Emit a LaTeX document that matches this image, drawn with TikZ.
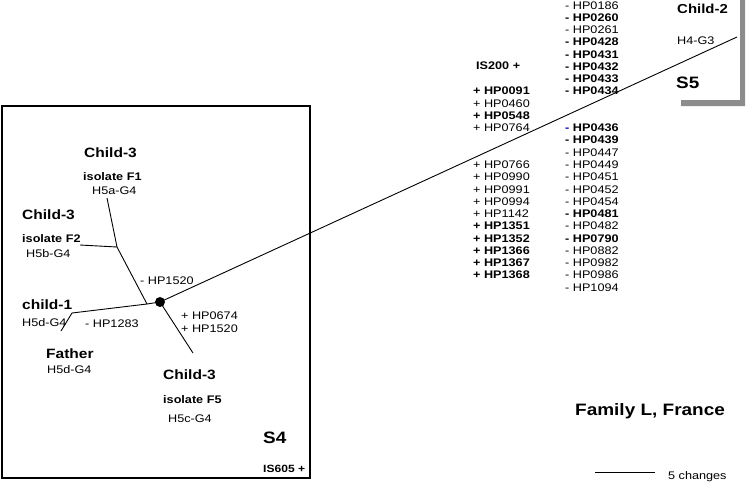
\documentclass[tikz,border=0pt]{standalone}
\usepackage{fontspec}
\setmainfont{Liberation Sans}[FakeStretch=1.15]
\begin{document}
\begin{tikzpicture}[x=1pt,y=-1pt,
  every node/.style={inner sep=0pt, anchor=base west},
  lr/.style={font=\fontsize{11}{13}\selectfont},
  lb/.style={font=\fontsize{11}{13}\selectfont\bfseries},
  who/.style={font=\fontsize{13.5}{15}\selectfont\bfseries},
  big/.style={font=\fontsize{16.5}{18}\selectfont\bfseries},
  branch/.style={line width=0.9pt, black},
  shadowc/.style={fill=black!45, draw=none}]
\useasboundingbox (0,0) rectangle (749,482);

% frame S4
\draw[line width=2pt] (2,105.5) rectangle (310,478);
% gray shadow S5
\fill[shadowc] (740,0) -- (745,0) -- (745,106) -- (681,106) -- (681,100) -- (740,100) -- cycle;

% tree
\coordinate (j0) at (147,304);
\coordinate (j1) at (117,247);
\coordinate (lF1) at (107,198);
\coordinate (lF2) at (80,245);
\coordinate (lc1) at (72,313);
\coordinate (lfa) at (61,331);
\coordinate (lF5) at (193,353);
\coordinate (lS5) at (737,37);
\node[circle, fill=black, minimum size=10pt, inner sep=0pt, anchor=center] (dot) at (160,302) {};
\draw[branch] (dot.center) -- (lS5);
\draw[branch] (dot.center) -- (lF5);
\draw[branch] (dot.center) -- (j0);
\draw[branch] (j0) -- (j1);
\draw[branch] (j1) -- (lF1);
\draw[branch] (j1) -- (lF2);
\draw[branch] (j0) -- (lc1);
\draw[branch] (lc1) -- (lfa);

% labels in S4
\node[who] (c3a) at (84,157) {Child-3};
\node[lb] (isoF1) at (83,180) {isolate F1};
\node[lr] (h5a) at (92,194) {H5a-G4};
\node[who] (c3b) at (22,219) {Child-3};
\node[lb] (isoF2) at (22,242) {isolate F2};
\node[lr] (h5b) at (26,257) {H5b-G4};
\node[lr] (m1520) at (140,284) {- HP1520};
\node[who] (c1) at (22,309) {child-1};
\node[lr] (h5d1) at (22,326) {H5d-G4};
\node[lr] (m1283) at (85,327) {- HP1283};
\node[lr] (p0674) at (181,319) {+ HP0674};
\node[lr] (p1520) at (181,332) {+ HP1520};
\node[who] (fa) at (46,358) {Father};
\node[lr] (h5d2) at (47,373) {H5d-G4};
\node[who] (c3c) at (163,379) {Child-3};
\node[lb] (isoF5) at (163,403) {isolate F5};
\node[lr] (h5c) at (168,422) {H5c-G4};
\node[big] (s4) at (263,443) {S4};
\node[font=\fontsize{10.5}{12}\selectfont\bfseries] (is605) at (263,472) {IS605 +};

% S5 corner
\node[font=\fontsize{13}{15}\selectfont\bfseries] (c2) at (677,13) {Child-2};
\node[lr] (h4) at (677,44) {H4-G3};
\node[big] (s5) at (676,88) {S5};
\node[lb] (is200) at (476,69) {IS200 +};

% right column
\foreach \t/\s/\k [count=\i] in {HP0186/lr/0, HP0260/lb/1, HP0261/lr/2, HP0428/lb/3,
  HP0431/lb/4, HP0432/lb/5, HP0433/lb/6, HP0434/lb/7,
  HP0439/lb/11, HP0447/lr/12, HP0449/lr/13, HP0451/lr/14, HP0452/lr/15,
  HP0454/lr/16, HP0481/lb/17, HP0482/lr/18, HP0790/lb/19, HP0882/lr/20,
  HP0982/lr/21, HP0986/lr/22, HP1094/lr/23}
  \node[\s] (r\i) at (565,{9+12.27*\k}) {- \t};
\node[lb] (r436) at (565,{9+12.27*10}) {\textcolor{blue!70!black}{-} HP0436};

% left column
\foreach \t/\s/\k [count=\i] in {HP0091/lb/7, HP0460/lr/8, HP0548/lb/9, HP0764/lr/10,
  HP0766/lr/13, HP0990/lr/14, HP0991/lr/15, HP0994/lr/16, HP1142/lr/17,
  HP1351/lb/18, HP1352/lb/19, HP1366/lb/20, HP1367/lb/21, HP1368/lb/22}
  \node[\s] (l\i) at (473,{9+12.27*\k}) {+ \t};

% title and scale
\node[big] (title) at (575,415) {Family L, France};
\coordinate (sb1) at (595,472);
\coordinate (sb2) at (655,472);
\draw[line width=0.9pt] (sb1) -- (sb2);
\node[lr] (sbl) at (668,479) {5 changes};
\end{tikzpicture}
\end{document}
